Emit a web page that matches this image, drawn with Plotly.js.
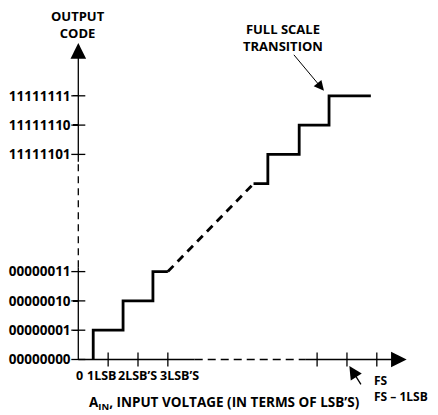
<!DOCTYPE html>
<html>
<head>
<meta charset="utf-8">
<script src="https://cdn.plot.ly/plotly-3.0.1.min.js"></script>
<style>html,body{margin:0;padding:0;background:#fff;}#chart{width:438px;height:415px;}</style>
</head>
<body>
<div id="chart"></div>
<script>
// ---- data ----
// output code levels (positions on the vertical axis) and their labels
const codeLevels = [0, 1, 2, 3, 7, 8, 9];
const codeLabels = ["00000000", "00000001", "00000010", "00000011", "11111101", "11111110", "11111111"];
// input voltage tick positions (in LSBs)
const inputTicks = [1, 2, 3, 8, 9, 10];
const inputTickLabels = ["0", "1LSB", "2LSB\u2019S", "3LSB\u2019S"];
const inputTickLabelPos = [0, 1, 2, 3];
// transfer function, lower steps (solid)
const lowX = [0.5, 0.5, 1.5, 1.5, 2.5, 2.5, 3.0];
const lowY = [0, 1, 1, 2, 2, 3, 3];
// omitted middle codes (dashed)
const midX = [3.0, 5.87];
const midY = [3, 6];
// upper steps (solid)
const highX = [5.87, 6.35, 6.35, 7.4, 7.4, 8.4, 8.4, 9.8];
const highY = [6, 6, 7, 7, 8, 8, 9, 9];
// axis breaks (where the axes become dashed) and arrow tips
const xAxisBreak = [3.9, 7.6];
const xAxisEnd = 11;
const yAxisBreak = [3.15, 6.75];
const yAxisEnd = 10.8;

// ---- layout helpers ----
const F = "Open Sans, DejaVu Sans, sans-serif";
const xr = [-1.953, 11.715];
const yr = [-1.724, 11.997];
const yAxisPos = (0 - xr[0]) / (xr[1] - xr[0]);
const xAxisPos = (0 - yr[0]) / (yr[1] - yr[0]);

const stepLine = {color: "#000", width: 2.8};
const traces = [
  {x: lowX, y: lowY, mode: "lines", line: stepLine, cliponaxis: false},
  {x: midX, y: midY, mode: "lines", line: Object.assign({}, stepLine, {dash: "8px,6px"}), cliponaxis: false},
  {x: highX, y: highY, mode: "lines", line: stepLine, cliponaxis: false},
  // crossing tick marks on the horizontal axis
  {x: inputTicks, y: inputTicks.map(() => 0), mode: "markers",
   marker: {symbol: "line-ns", size: 10, line: {color: "#000", width: 1.3}}, cliponaxis: false},
  // crossing tick marks on the vertical axis
  {x: codeLevels.map(() => 0), y: codeLevels, mode: "markers",
   marker: {symbol: "line-ew", size: 10, line: {color: "#000", width: 1.3}}, cliponaxis: false}
];

const axLine = {color: "#000", width: 1.3};
const shapes = [
  {type: "line", xref: "x", yref: "y", x0: 0, x1: xAxisBreak[0], y0: 0, y1: 0, line: axLine},
  {type: "line", xref: "x", yref: "y", x0: xAxisBreak[0], x1: xAxisBreak[1], y0: 0, y1: 0,
   line: Object.assign({}, axLine, {dash: "8px,5px"})},
  {type: "line", xref: "x", yref: "y", x0: xAxisBreak[1], x1: xAxisEnd - 0.2, y0: 0, y1: 0, line: axLine},
  {type: "line", xref: "x", yref: "y", x0: 0, x1: 0, y0: 0, y1: yAxisBreak[0], line: axLine},
  {type: "line", xref: "x", yref: "y", x0: 0, x1: 0, y0: yAxisBreak[0], y1: yAxisBreak[1],
   line: Object.assign({}, axLine, {dash: "7px,5px"})},
  {type: "line", xref: "x", yref: "y", x0: 0, x1: 0, y0: yAxisBreak[1], y1: yAxisEnd - 0.2, line: axLine}
];

const txt = (s) => ({family: F, size: s, color: "#000", weight: 700});
const annotations = [
  // axis arrows
  {x: xAxisEnd, y: 0, ax: xAxisEnd - 0.45, ay: 0, axref: "x", ayref: "y", xref: "x", yref: "y",
   text: "", showarrow: true, arrowhead: 2, arrowsize: 2.4, arrowwidth: 1.3, arrowcolor: "#000"},
  {x: 0, y: yAxisEnd, ax: 0, ay: yAxisEnd - 0.45, axref: "x", ayref: "y", xref: "x", yref: "y",
   text: "", showarrow: true, arrowhead: 2, arrowsize: 2.4, arrowwidth: 1.3, arrowcolor: "#000"},
  // y axis heading
  {x: 0, y: 11.45, xref: "x", yref: "y", text: "OUTPUT<br>CODE", showarrow: false,
   font: txt(13), align: "center"},
  // full scale transition callout
  {x: 6.86, y: 11.0, xref: "x", yref: "y", text: "FULL SCALE<br>TRANSITION", showarrow: false,
   font: txt(13), align: "center"},
  {x: 8.23, y: 9.17, ax: 7.18, ay: 10.45, axref: "x", ayref: "y", xref: "x", yref: "y",
   text: "", showarrow: true, arrowhead: 2, arrowsize: 2, arrowwidth: 1, arrowcolor: "#000"},
  // FS callout
  {x: 9.83, y: -0.36, xref: "x", yref: "y", text: "FS<br>FS \u2013 1LSB", xanchor: "left", yanchor: "top",
   align: "left", showarrow: false, font: txt(12)},
  {x: 9.08, y: -0.22, ax: 9.5, ay: -0.9, axref: "x", ayref: "y", xref: "x", yref: "y",
   text: "", showarrow: true, arrowhead: 2, arrowsize: 2, arrowwidth: 1.3, arrowcolor: "#000"},
  // x axis title
  {x: 4.89, y: -1.48, xref: "x", yref: "y", showarrow: false, font: txt(13.5),
   text: "A<sub>IN</sub>, INPUT VOLTAGE (IN TERMS OF LSB\u2019S)"}
];
// x tick labels
const labelShift = [1, -6, -1, 12];
inputTickLabels.forEach((t, i) => {
  annotations.push({x: inputTickLabelPos[i], y: -0.563, xref: "x", yref: "y", text: t,
    xshift: labelShift[i], showarrow: false, font: txt(12.5)});
});

const layout = {
  width: 438, height: 415,
  margin: {l: 20, r: 10, t: 8, b: 5},
  paper_bgcolor: "#fff", plot_bgcolor: "#fff",
  showlegend: false, hovermode: false,
  xaxis: {range: xr, showgrid: false, zeroline: false, showline: false, showticklabels: false,
          ticks: "", anchor: "free", position: xAxisPos, fixedrange: true},
  yaxis: {range: yr, showgrid: false, zeroline: false, showline: false,
          tickvals: codeLevels, ticktext: codeLabels, ticks: "outside", ticklen: 5,
          tickwidth: 1.3, tickcolor: "#000", tickfont: txt(13.5),
          anchor: "free", position: yAxisPos, automargin: false, fixedrange: true},
  shapes: shapes,
  annotations: annotations
};

Plotly.newPlot("chart", traces, layout, {displayModeBar: false, staticPlot: true});
</script>
</body>
</html>
